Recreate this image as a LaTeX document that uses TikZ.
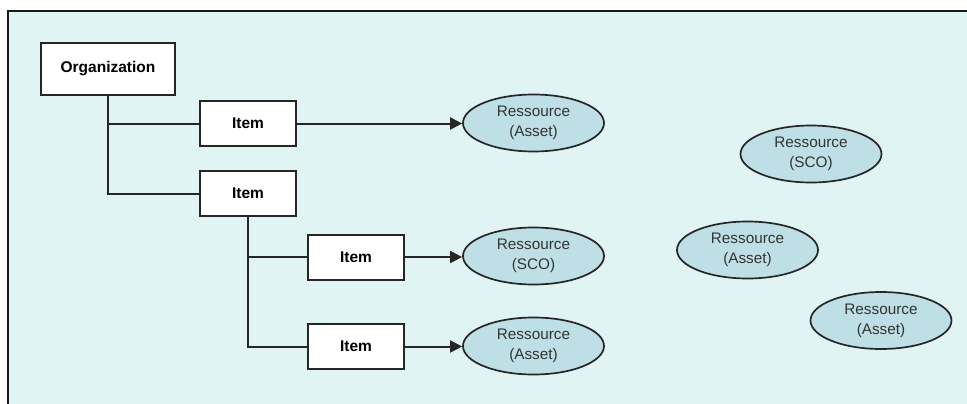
\documentclass[tikz,border=0pt]{standalone}
\usepackage{fontspec}
\setmainfont{Liberation Sans}
\usetikzlibrary{shapes.geometric,arrows.meta}
\definecolor{panel}{HTML}{E0F4F4}
\definecolor{resfill}{HTML}{BEDFE5}
\definecolor{restext}{HTML}{333333}
\tikzset{
  itembox/.style={draw=black!85, line width=2pt, fill=white, inner sep=0pt,
    font=\fontsize{15.5}{18}\selectfont\bfseries},
  resource/.style={ellipse, draw=black!85, line width=1.7pt, fill=resfill, inner sep=0pt,
    minimum width=141pt, minimum height=57pt, align=center, text=restext,
    font=\fontsize{15.3}{20}\selectfont},
  link/.style={draw=black!85, line width=2pt},
  arrowlink/.style={link, -{Triangle[length=12pt,width=12pt]}}
}
\begin{document}
\begin{tikzpicture}[x=1pt,y=-1pt]
\useasboundingbox (0,0) rectangle (967,404);
% panel background and its frame
\fill[panel] (8,11) rectangle (967,404);
\draw[line width=2.6pt, black!90] (8,404) -- (8,11) -- (967,11);

% tree of organization and items
\node[itembox, minimum width=134pt, minimum height=52pt] (org) at (108,69) {Organization};
\node[itembox, minimum width=96pt, minimum height=45pt] (item1) at (248,123.5) {Item};
\node[itembox, minimum width=96pt, minimum height=45pt] (item2) at (248,193.5) {Item};
\node[itembox, minimum width=96pt, minimum height=45pt] (item3) at (356,257) {Item};
\node[itembox, minimum width=96pt, minimum height=45pt] (item4) at (356,346.5) {Item};

% resources
\node[resource] (res1) at (533.5,123) {Ressource\\(Asset)};
\node[resource] (res2) at (533.5,256) {Ressource\\(SCO)};
\node[resource] (res3) at (533.5,346) {Ressource\\(Asset)};
\node[resource] (res4) at (811,154) {Ressource\\(SCO)};
\node[resource] (res5) at (747.5,250) {Ressource\\(Asset)};
\node[resource] (res6) at (881,320.5) {Ressource\\(Asset)};

% tree connectors
\draw[link] (org.south) |- (item1.west);
\draw[link] (org.south) |- (item2.west);
\draw[link] (item2.south) |- (item3.west);
\draw[link] (item2.south) |- (item4.west);

% item to resource arrows, kept horizontal
\draw[arrowlink] (item1.east) -- (item1.east -| res1.west);
\draw[arrowlink] (item3.east) -- (item3.east -| res2.west);
\draw[arrowlink] (item4.east) -- (item4.east -| res3.west);
\end{tikzpicture}
\end{document}
